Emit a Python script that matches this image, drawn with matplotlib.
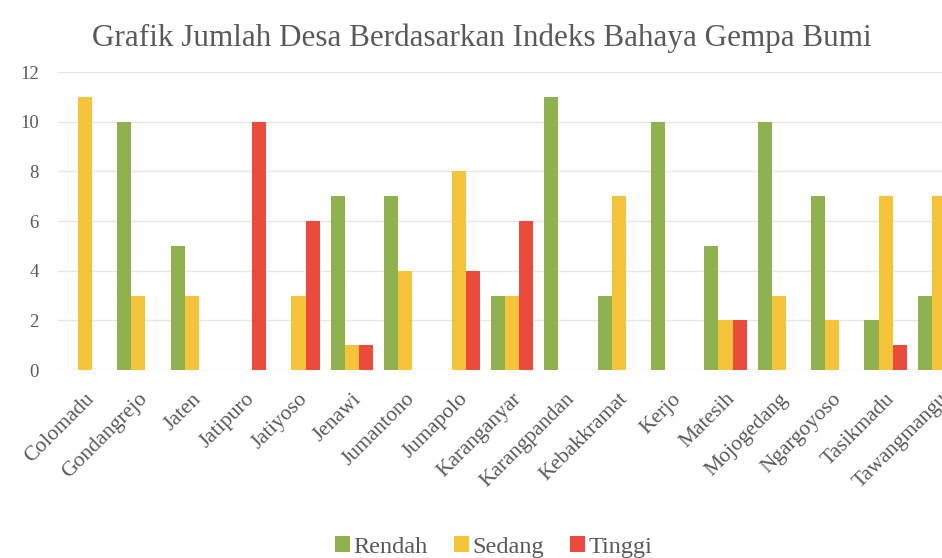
import numpy as np
import matplotlib
matplotlib.use('Agg')
import matplotlib.pyplot as plt

# Data: number of villages per earthquake hazard index, per kecamatan
kecamatan = ['Colomadu', 'Gondangrejo', 'Jaten', 'Jatipuro', 'Jatiyoso', 'Jenawi',
             'Jumantono', 'Jumapolo', 'Karanganyar', 'Karangpandan', 'Kebakkramat',
             'Kerjo', 'Matesih', 'Mojogedang', 'Ngargoyoso', 'Tasikmadu', 'Tawangmangu']
rendah = [0, 10, 5, 0, 0, 7, 7, 0, 3, 11, 3, 10, 5, 10, 7, 2, 3]
sedang = [11, 3, 3, 0, 3, 1, 4, 8, 3, 0, 7, 0, 2, 3, 2, 7, 7]
tinggi = [0, 0, 0, 10, 6, 1, 0, 4, 6, 0, 0, 0, 2, 0, 0, 1, 0]

plt.rcParams['font.family'] = 'Liberation Serif'

fig = plt.figure(figsize=(9.42, 5.58), dpi=100)
# the original screenshot is cut off on the right, so the axes run past the edge
ax = fig.add_axes([0.0619, 0.3369, 0.9633, 0.534])

x = np.arange(len(kecamatan))
w = 0.265
ax.bar(x - w, rendah, w, color='#8fb14e', label='Rendah')
ax.bar(x, sedang, w, color='#f5c43a', label='Sedang')
ax.bar(x + w, tinggi, w, color='#ec4b3c', label='Tinggi')

ax.set_xlim(-0.5, len(kecamatan) - 0.5)
ax.set_ylim(0, 12)
ax.set_yticks(range(0, 13, 2))
ax.yaxis.grid(True, color='#e6e6e6', linewidth=1)
ax.set_axisbelow(True)
for s in ax.spines.values():
    s.set_visible(False)
ax.tick_params(length=0, labelcolor='#595959')
ax.tick_params(axis='y', labelsize=13.5, pad=14)
ax.set_xticks(x)
ax.set_xticklabels(kecamatan, rotation=45, ha='right', rotation_mode='anchor',
                   fontsize=15.5)
ax.tick_params(axis='x', pad=14)

fig.text(0.511, 0.932, 'Grafik Jumlah Desa Berdasarkan Indeks Bahaya Gempa Bumi',
         ha='center', va='center', fontsize=22.4, color='#595959')

fig.legend(loc='center', bbox_to_anchor=(0.524, 0.02), ncol=3, frameon=False,
           fontsize=17.5, handlelength=0.62, handleheight=0.62, columnspacing=1.07,
           handletextpad=0.15, labelcolor='#595959')

fig.savefig('out.png', dpi=100)
